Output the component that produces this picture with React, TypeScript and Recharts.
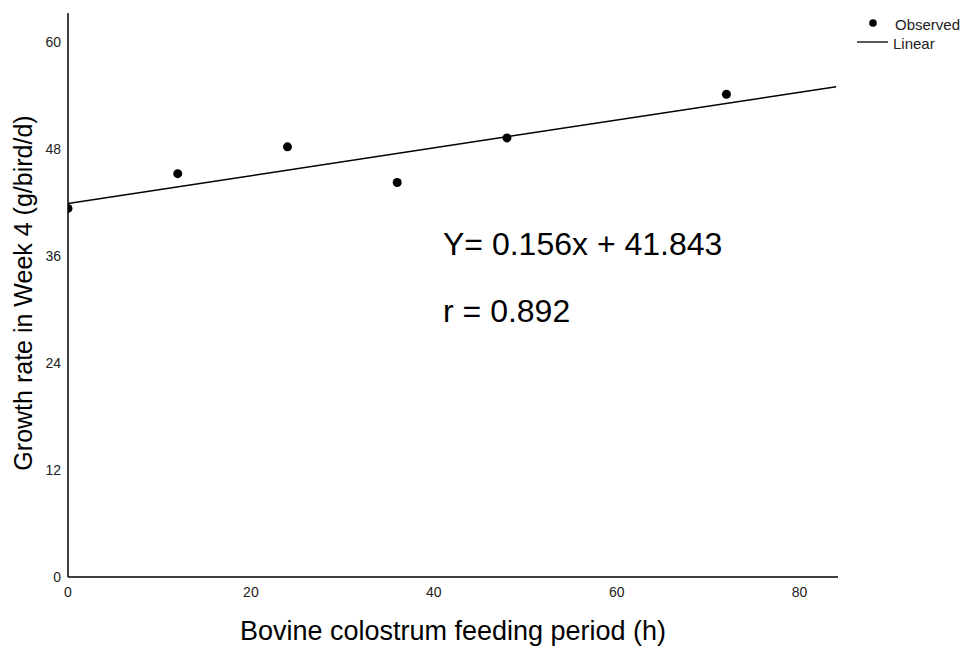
import {
  ComposedChart,
  Scatter,
  Line,
  XAxis,
  YAxis,
  Label,
} from 'recharts';

// feeding period (h) and observed growth rate (g/bird/d)
const hours = [0, 12, 24, 36, 48, 72];
const growth = [41.3, 45.2, 48.2, 44.2, 49.2, 54.1];

// fitted line endpoints as drawn: Y = 0.156x + 41.843
const fitHours = [0, 84];
const fitGrowth = [41.843, 54.947];

const xTicks = [0, 20, 40, 60, 80];
const yTicks = [0, 12, 24, 36, 48, 60];

const observed = hours.map((h, i) => ({ x: h, y: growth[i] }));
const fitted = fitHours.map((h, i) => ({ x: h, y: fitGrowth[i] }));

const font = 'Arial, "Liberation Sans", sans-serif';

export default function App() {
  return (
    <div style={{ position: 'absolute', left: 0, top: 0, width: 967, height: 649, background: '#fff' }}>
      <ComposedChart
        width={967}
        height={649}
        margin={{ top: 13, right: 129, bottom: 0, left: 0 }}
      >
        <XAxis
          type="number"
          dataKey="x"
          domain={[0, 84.2]}
          ticks={xTicks}
          allowDataOverflow
          height={72}
          tickLine={false}
          tickSize={0}
          tickMargin={10}
          axisLine={{ stroke: '#000', strokeWidth: 1.5 }}
          tick={{ fill: '#222', fontSize: 14, fontFamily: font }}
        >
          <Label
            content={({ viewBox }: any) => (
              <text
                x={viewBox.x + viewBox.width / 2}
                y={640}
                textAnchor="middle"
                fontSize={27}
                fontFamily={font}
                fill="#000"
              >
                Bovine colostrum feeding period (h)
              </text>
            )}
          />
        </XAxis>
        <YAxis
          type="number"
          dataKey="y"
          domain={[0, 63.2]}
          ticks={yTicks}
          allowDataOverflow
          width={68}
          tickLine={false}
          tickSize={0}
          tickMargin={7}
          axisLine={{ stroke: '#000', strokeWidth: 1.5 }}
          tick={{ fill: '#222', fontSize: 14, fontFamily: font }}
        >
          <Label
            content={() => {
              const cx = 23;
              const cy = 293;
              return (
                <text
                  x={cx}
                  y={cy}
                  transform={`rotate(-90 ${cx} ${cy})`}
                  textAnchor="middle"
                  dominantBaseline="central"
                  fontSize={25}
                  fontFamily={font}
                  fill="#000"
                >
                  Growth rate in Week 4 (g/bird/d)
                </text>
              );
            }}
          />
        </YAxis>
        <Line
          data={fitted}
          dataKey="y"
          type="linear"
          stroke="#000"
          strokeWidth={1.5}
          dot={false}
          activeDot={false}
          isAnimationActive={false}
          legendType="none"
        />
        <Scatter
          data={observed}
          dataKey="y"
          fill="#000"
          shape={(p: any) => <circle cx={p.cx} cy={p.cy} r={4.5} fill="#000" />}
          isAnimationActive={false}
        />
      </ComposedChart>
      <svg
        width={967}
        height={649}
        style={{ position: 'absolute', left: 0, top: 0, pointerEvents: 'none' }}
        fontFamily={font}
      >
        {/* legend */}
        <circle cx={873} cy={23} r={3.8} fill="#000" />
        <text x={895} y={30} fontSize={15} fill="#222">Observed</text>
        <line x1={857} y1={42} x2={888} y2={42} stroke="#000" strokeWidth={1.3} />
        <text x={893} y={49} fontSize={15} fill="#222">Linear</text>
        {/* regression annotation */}
        <text x={443} y={255} fontSize={32} fill="#000">Y= 0.156x + 41.843</text>
        <text x={443} y={322} fontSize={32} fill="#000">r = 0.892</text>
      </svg>
    </div>
  );
}
